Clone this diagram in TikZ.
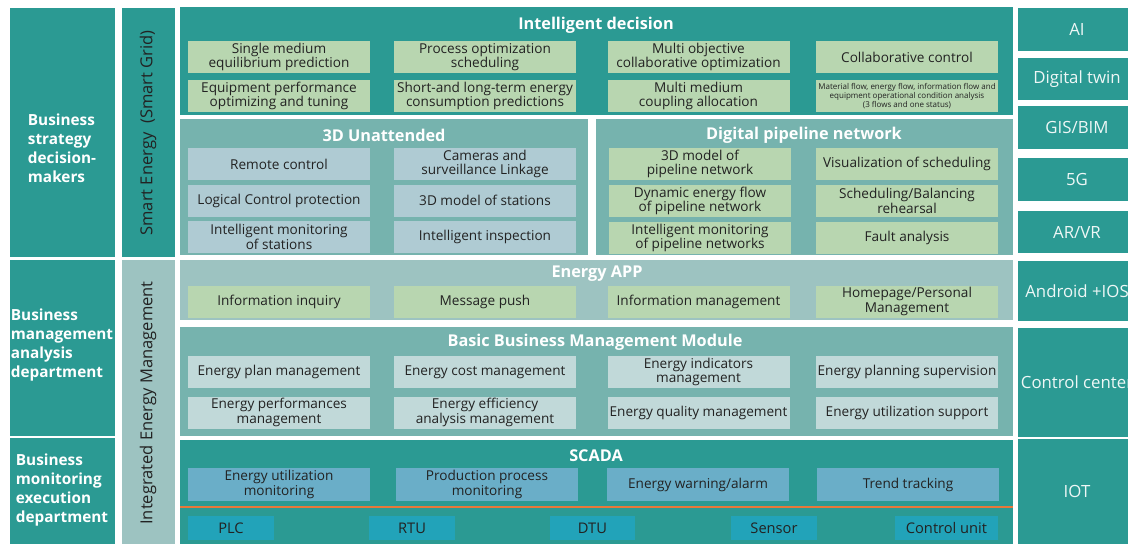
\documentclass[tikz,border=0pt]{standalone}
\usepackage{fontspec}
\setmainfont{Open Sans}
\usepackage{xcolor}
\usepackage{tikz}
\usetikzlibrary{positioning}

\definecolor{teal}{HTML}{2B9A93}
\definecolor{midteal}{HTML}{76B3AE}
\definecolor{paleteal}{HTML}{9DC3C1}
\definecolor{leaf}{HTML}{B8D6B0}
\definecolor{mist}{HTML}{AFCBD3}
\definecolor{frost}{HTML}{C1D9D9}
\definecolor{sky}{HTML}{6AAEC8}
\definecolor{cyan}{HTML}{22A3B9}
\definecolor{rust}{HTML}{E8783A}
\definecolor{ink}{HTML}{222222}

\begin{document}
\begin{tikzpicture}
  [ x=0.75pt, y=-0.75pt,
    cell/.style={minimum width=136.5pt, minimum height=24pt, inner sep=0pt,
      align=center, text=ink, font=\fontsize{10.2}{11}\selectfont},
    green/.style={cell, fill=leaf},
    grey/.style={cell, fill=mist},
    pale/.style={cell, fill=frost},
    blue/.style={cell, fill=sky, minimum height=24.75pt},
    dev/.style={cell, fill=cyan, minimum height=18pt, font=\fontsize{11}{13}\selectfont},
    title/.style={text=white, font=\fontsize{12.2}{14}\selectfont\bfseries},
    side/.style={text=white, align=left, font=\fontsize{11.5}{14.25}\selectfont\bfseries},
    tech/.style={text=white!92!teal, font=\fontsize{12.6}{14}\selectfont},
    vert/.style={rotate=90, text=ink, font=\fontsize{12.4}{14}\selectfont}
  ]
  \clip (0,0) rectangle (1128,544);
  \fill [white] (0,0) rectangle (1128,544);

  % left column
  \fill [teal] (10,8) rectangle (115,257);
  \fill [teal] (10,260) rectangle (115,436);
  \fill [teal] (10,438) rectangle (115,544);
  \node (s1) at (62,148) [side] {Business\\strategy\\decision-\\makers};
  \node (s2) at (62,345) [side] {Business\\management\\analysis\\department};
  \node (s3) at (62,490) [side] {Business\\monitoring\\execution\\department};

  \fill [teal] (122,8) rectangle (175,257);
  \fill [paleteal] (122,260) rectangle (175,544);
  \node (v1) at (148,133) [vert] {Smart Energy\ \ (Smart Grid)};
  \node (v2) at (148,403) [vert] {Integrated Energy Management};

  % panels
  \fill [teal] (180,7) rectangle (1013,115);
  \fill [midteal] (180,119) rectangle (588,255);
  \fill [midteal] (596,119) rectangle (1013,255);
  \fill [paleteal] (180,260) rectangle (1013,320);
  \fill [midteal] (180,327) rectangle (1013,436);
  \fill [teal] (180,440) rectangle (1013,544);

  \node (t1) at (596,25)  [title] {Intelligent decision};
  \node (t2) at (384,135) [title] {3D Unattended};
  \node (t3) at (804,135) [title] {Digital pipeline network};
  \node (t4) at (597,274) [title] {Energy APP};
  \node (t5) at (595,342) [title] {Basic Business Management Module};
  \node (t6) at (596,456) [title] {SCADA};

  % intelligent decision
  \node (d1) at (279,57)   [green] {Single medium\\equilibrium prediction};
  \node (d2) at (485,57)   [green] {Process optimization\\scheduling};
  \node (d3) at (698.5,57) [green] {Multi objective\\collaborative optimization};
  \node (d4) at (907,57)   [green] {Collaborative control};
  \node (d5) at (279,96)   [green] {Equipment performance\\optimizing and tuning};
  \node (d6) at (485,96)   [green] {Short-and long-term energy\\consumption predictions};
  \node (d7) at (698.5,96) [green] {Multi medium\\coupling allocation};
  \node (d8) at (907,96)   [green, font=\fontsize{6}{6.6}\selectfont]
    {Material flow, energy flow, information flow and\\equipment operational condition analysis\\(3 flows and one status)};

  % 3D unattended
  \node (u1) at (279,164) [grey] {Remote control};
  \node (u2) at (485,164) [grey] {Cameras and\\surveillance Linkage};
  \node (u3) at (279,200.5) [grey] {Logical Control protection};
  \node (u4) at (485,200.5) [grey] {3D model of stations};
  \node (u5) at (279,237) [grey] {Intelligent monitoring\\of stations};
  \node (u6) at (485,237) [grey] {Intelligent inspection};

  % digital pipeline network
  \node (p1) at (700,164) [green] {3D model of\\pipeline network};
  \node (p2) at (907,164) [green] {Visualization of scheduling};
  \node (p3) at (700,201) [green] {Dynamic energy flow\\of pipeline network};
  \node (p4) at (907,201) [green] {Scheduling/Balancing\\rehearsal};
  \node (p5) at (700,238) [green] {Intelligent monitoring\\of pipeline networks};
  \node (p6) at (907,238) [green] {Fault analysis};

  % energy app
  \node (e1) at (279,301.5)   [green] {Information inquiry};
  \node (e2) at (485,301.5)   [green] {Message push};
  \node (e3) at (698.5,301.5) [green] {Information management};
  \node (e4) at (907,301.5)   [green] {Homepage/Personal\\Management};

  % basic business management
  \node (b1) at (279,372)   [pale] {Energy plan management};
  \node (b2) at (485,372)   [pale] {Energy cost management};
  \node (b3) at (698.5,372) [pale] {Energy indicators\\management};
  \node (b4) at (907,372)   [pale] {Energy planning supervision};
  \node (b5) at (279,412.5)   [pale] {Energy performances\\management};
  \node (b6) at (485,412.5)   [pale] {Energy efficiency\\analysis management};
  \node (b7) at (698.5,412.5) [pale] {Energy quality management};
  \node (b8) at (907,412.5)   [pale] {Energy utilization support};

  % scada
  \node (c1) at (279,484.5) [blue] {Energy utilization\\monitoring};
  \node (c2) at (487,484.5) [blue] {Production process\\monitoring};
  \node (c3) at (698,484.5) [blue] {Energy warning/alarm};
  \node (c4) at (908,484.5) [blue] {Trend tracking};
  \draw [rust, line width=1.5pt] (180,507) -- (1013,507);

  \node (f1) at (231,528)   [dev, minimum width=64.5pt] {PLC};
  \node (f2) at (412,528)   [dev, minimum width=64.5pt] {RTU};
  \node (f3) at (592.5,528) [dev, minimum width=64pt] {DTU};
  \node (f4) at (774,528)   [dev, minimum width=64.5pt] {Sensor};
  \node (f5) at (946.5,528) [dev, minimum width=77pt] {Control unit};

  % right column
  \fill [teal] (1018,8) rectangle (1136,51);
  \fill [teal] (1018,58) rectangle (1136,100);
  \fill [teal] (1018,106) rectangle (1136,149);
  \fill [teal] (1018,158) rectangle (1136,201);
  \fill [teal] (1018,211) rectangle (1136,253);
  \fill [teal] (1018,261) rectangle (1136,321);
  \fill [teal] (1018,328) rectangle (1136,437);
  \fill [teal] (1018,439) rectangle (1136,544);
  \node (r1) at (1077,29.5)  [tech] {AI};
  \node (r2) at (1077,79)    [tech] {Digital twin};
  \node (r3) at (1077,127.5) [tech] {GIS/BIM};
  \node (r4) at (1077,179.5) [tech] {5G};
  \node (r5) at (1077,232)   [tech] {AR/VR};
  \node (r6) at (1077,291)   [tech] {Android +IOS};
  \node (r7) at (1077,382.5) [tech] {Control center};
  \node (r8) at (1077,491.5) [tech] {IOT};
\end{tikzpicture}
\end{document}
